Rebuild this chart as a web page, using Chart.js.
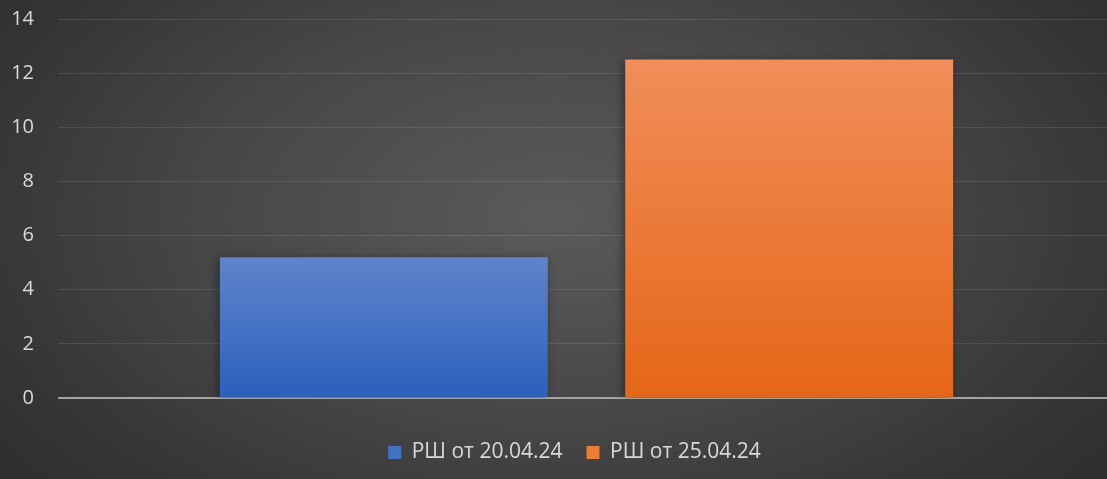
<!DOCTYPE html>
<html>
<head>
<meta charset="utf-8">
<script src="https://cdn.jsdelivr.net/npm/chart.js@4"></script>
<style>
  html, body { margin: 0; padding: 0; }
  body {
    width: 1107px; height: 479px; overflow: hidden;
    background: radial-gradient(ellipse 70% 95% at 50% 45%, #5a5a5a 0%, #474747 45%, #333333 80%, #2b2b2b 100%);
  }
  /* plot area runs a little past the right edge in the original */
  #wrap { width: 1115px; height: 479px; }
</style>
</head>
<body>
<div id="wrap"><canvas id="myChart"></canvas></div>
<script>
var categories = [''];
var seriesNames = ['РШ от 20.04.24', 'РШ от 25.04.24'];
var series1 = [5.2];
var series2 = [12.5];
var yTicks = [0, 2, 4, 6, 8, 10, 12, 14];

// vertical gradient for each bar, from its top down to zero
function barGradient(top, bottom) {
  return function(context) {
    var chart = context.chart;
    if (!chart.chartArea || context.parsed == null) return bottom;
    var y = chart.scales.y;
    var g = chart.ctx.createLinearGradient(0, y.getPixelForValue(context.parsed.y), 0, y.getPixelForValue(0));
    g.addColorStop(0, top);
    g.addColorStop(1, bottom);
    return g;
  };
}

var shadowPlugin = {
  id: 'barShadow',
  beforeDatasetsDraw: function(chart) {
    var ctx = chart.ctx;
    ctx.save();
    ctx.shadowColor = 'rgba(0,0,0,0.45)';
    ctx.shadowBlur = 9;
    ctx.shadowOffsetX = -2;
    ctx.shadowOffsetY = 2;
  },
  afterDatasetsDraw: function(chart) {
    chart.ctx.restore();
  }
};

// legend sits a bit right of the canvas centre in the original
var legendShift = {
  id: 'legendShift',
  afterLayout: function(chart) {
    if (!chart.legend) return;
    chart.legend.left += 17;
    chart.legend.right += 17;
  }
};

var data = {
  labels: categories,
  datasets: [{
    label: seriesNames[0],
    data: series1,
    backgroundColor: barGradient('#5f84cb', '#2c60bd'),
    legendColor: '#4472c4'
  },
  {
    label: seriesNames[1],
    data: series2,
    backgroundColor: barGradient('#f18e5a', '#e56617'),
    legendColor: '#ed7d31'
  }]
};

var options = {
  responsive: true,
  maintainAspectRatio: false,
  animation: false,
  layout: { padding: { left: 0, right: 0, top: 19, bottom: 6 } },
  datasets: { bar: { categoryPercentage: 0.767, barPercentage: 0.809 } },
  scales: {
    x: {
      display: true,
      border: { display: false },
      grid: { display: false },
      ticks: { display: false },
      afterFit: function(axis) { axis.height = 20; }
    },
    y: {
      min: 0,
      max: 14,
      afterBuildTicks: function(axis) {
        axis.ticks = yTicks.map(function(v) { return { value: v }; });
      },
      afterFit: function(axis) {
        axis.width = 58;
        axis.paddingTop = 0;
        axis.paddingBottom = 0;
      },
      border: { display: false },
      grid: {
        drawTicks: false,
        color: function(c) { return c.tick && c.tick.value === 0 ? '#a3a3a3' : 'rgba(255,255,255,0.10)'; },
        lineWidth: function(c) { return c.tick && c.tick.value === 0 ? 2 : 1; }
      },
      ticks: {
        color: '#d9d9d9',
        padding: 24,
        font: { family: 'Open Sans', size: 20 }
      }
    }
  },
  plugins: {
    tooltip: { enabled: false },
    legend: {
      position: 'bottom',
      labels: {
        color: '#d9d9d9',
        boxWidth: 13,
        boxHeight: 13,
        padding: 24,
        font: { family: 'Open Sans', size: 21 },
        generateLabels: function(chart) {
          return chart.data.datasets.map(function(ds, i) {
            return {
              text: ds.label,
              fillStyle: ds.legendColor,
              strokeStyle: ds.legendColor,
              lineWidth: 0,
              fontColor: '#d9d9d9',
              datasetIndex: i
            };
          });
        }
      }
    }
  }
};

var ctx = document.getElementById('myChart').getContext('2d');
var myChart = new Chart(ctx, {
  type: 'bar',
  data: data,
  options: options,
  plugins: [shadowPlugin, legendShift]
});
</script>
</body>
</html>
